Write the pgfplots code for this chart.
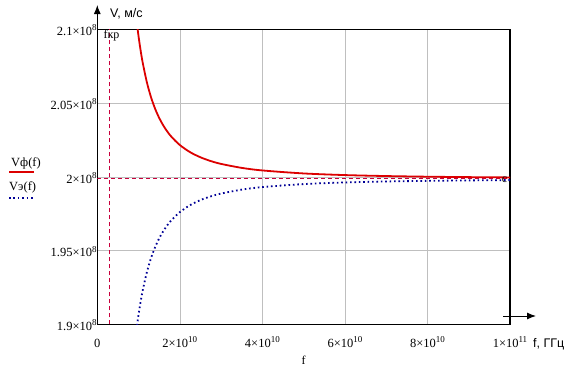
\documentclass[border=0pt]{standalone}
\usepackage{fontspec}
\setmainfont{Liberation Serif}
\newfontfamily\arial{Liberation Sans}
\usepackage{pgfplots}
\pgfplotsset{compat=1.18}
\usetikzlibrary{arrows.meta}
\definecolor{vred}{RGB}{220,0,0}
\definecolor{vblue}{RGB}{0,0,150}
\definecolor{dred}{RGB}{200,0,60}
\newcommand{\sq}[1]{\raisebox{4.6pt}{\fontsize{9}{9}\selectfont #1}}
\begin{document}
\begin{tikzpicture}[x=1pt,y=1pt]
\useasboundingbox (0,0) rectangle (570,376);
\begin{axis}[
  at={(97.3pt,51.7pt)}, anchor=south west,
  scale only axis, width=412.7pt, height=295pt,
  xmin=0, xmax=10, ymin=1.9, ymax=2.1,
  xtick={0,2,4,6,8,10},
  xticklabels={0, 2×10\sq{10}, 4×10\sq{10}, 6×10\sq{10}, 8×10\sq{10}, 1×10\sq{11}},
  ytick={1.9,1.95,2,2.05,2.1},
  yticklabels={1.9×10\sq{8}, 1.95×10\sq{8}, 2×10\sq{8}, 2.05×10\sq{8}, 2.1×10\sq{8}},
  grid=major, major grid style={black!25, line width=0.6pt},
  major tick length=0pt,
  axis line style={black, line width=1.2pt},
  tick label style={font=\fontsize{12.5}{13}\selectfont},
  xticklabel style={anchor=base, yshift=-23pt},
  yticklabel style={anchor=east, inner sep=0pt, xshift=-0.5pt, yshift=-1pt},
  clip=true,
]
\addplot[dred, line width=1.1pt, dash pattern=on 4pt off 3pt] coordinates {(0.29,1.9) (0.29,2.1)};
\addplot[dred, line width=0.9pt, dash pattern=on 4pt off 3pt] coordinates {(0,1.998667) (10,1.998667)};
\addplot[vred, line width=1.8pt, smooth] coordinates {
(0.9,2.11989) (0.95,2.10646) (1.0,2.09517) (1.05,2.08561) (1.1,2.07742) (1.2,2.06421) (1.3,2.05411) (1.4,2.04620) (1.5,2.03988) (1.6,2.03475) (1.7,2.03053) (1.8,2.02702) (2.0,2.02154) (2.25,2.01668) (2.5,2.01322) (2.75,2.01067) (3.0,2.00874) (3.5,2.00605) (4.0,2.00431) (5.0,2.00228) (6.0,2.00117) (7.0,2.00051) (8.0,2.00007) (9.0,1.99978) (10.0,1.99957)};
\addplot[vblue, line width=1.8pt, dash pattern=on 1.6pt off 2.8pt, smooth] coordinates {
(0.9,1.88436) (0.95,1.89639) (1.0,1.90661) (1.05,1.91535) (1.1,1.92290) (1.2,1.93520) (1.3,1.94472) (1.4,1.95224) (1.5,1.95829) (1.6,1.96322) (1.7,1.96730) (1.8,1.97071) (2.0,1.97605) (2.25,1.98082) (2.5,1.98423) (2.75,1.98674) (3.0,1.98865) (3.5,1.99131) (4.0,1.99304) (5.0,1.99507) (6.0,1.99617) (7.0,1.99683) (8.0,1.99726) (9.0,1.99756) (10.0,1.99777)};
\node[font=\fontsize{12}{12}\selectfont, inner sep=0pt] at (axis cs:0.344,2.0955) {fкр};
\node[font=\fontsize{12}{12}\selectfont, inner sep=0pt] at (axis cs:9.867,1.9978) {c};
\end{axis}
% axis arrows
\draw[line width=1pt, -{Latex[length=9pt,width=7pt]}] (97.3,346) -- (97.3,371);
\draw[line width=1pt, -{Latex[length=9pt,width=7pt]}] (503,60) -- (536,60);
\node[anchor=base west, inner sep=0pt, font=\arial\fontsize{12.5}{13}\selectfont] at (533,29) {f, ГГц};
\node[anchor=base west, inner sep=0pt, font=\arial\fontsize{12.5}{13}\selectfont] at (110,359) {V, м/с};
\node[anchor=base, inner sep=0pt, font=\fontsize{12}{12}\selectfont] at (303.6,12) {f};
% legend
\node[anchor=base west, inner sep=0pt, font=\fontsize{12.5}{13}\selectfont] at (11,210) {Vф(f)};
\draw[vred, line width=1.8pt] (9,204) -- (34,204);
\node[anchor=base west, inner sep=0pt, font=\fontsize{12.5}{13}\selectfont] at (9,186) {Vэ(f)};
\draw[vblue, line width=1.6pt, dash pattern=on 1.6pt off 2.8pt] (9,178) -- (34,178);
\end{tikzpicture}
\end{document}
